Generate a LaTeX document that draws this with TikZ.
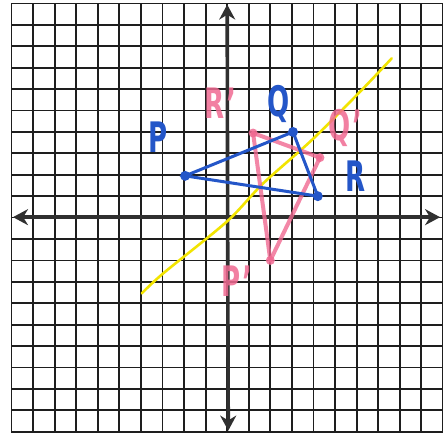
\documentclass[tikz,border=0pt]{standalone}
\usepackage{fontspec}
\setmainfont{DejaVu Sans}
\usetikzlibrary{arrows.meta}
\definecolor{gridc}{HTML}{1E1E1E}
\definecolor{axisc}{HTML}{303030}
\definecolor{blu}{HTML}{2456C8}
\definecolor{pnk}{HTML}{F06A92}
\definecolor{ylw}{HTML}{F2E400}
\tikzset{
  gridline/.style={draw=gridc, line width=1.8pt},
  axisline/.style={draw=axisc, line width=3.6pt, -{Stealth[length=15pt,width=16pt]}},
  blueside/.style={draw=blu, line width=3pt, line cap=round},
  pinkside/.style={draw=pnk, line width=4pt, line cap=round, opacity=0.8},
  bluedot/.style={circle, fill=blu, inner sep=0pt, minimum size=10pt},
  pinkdot/.style={circle, fill=pnk, opacity=0.85, inner sep=0pt, minimum size=9pt},
  bluelabel/.style={text=blu, font=\fontsize{42}{42}\selectfont\bfseries, inner sep=0pt, xscale=0.62},
  pinklabel/.style={text=pnk, opacity=0.85, font=\fontsize{42}{42}\selectfont\bfseries, inner sep=0pt, xscale=0.62},
}
\begin{document}
\begin{tikzpicture}[x=21.57pt, y=21.41pt]
\useasboundingbox (-10.533,-10.341) rectangle (10.005,10.163);
\fill[white] (-10.533,-10.341) rectangle (10.005,10.163);
% grid
\foreach \i in {-10,...,10} {
  \draw[gridline] (\i,-10) -- (\i,10);
  \draw[gridline] (-10,\i) -- (10,\i);
}
% axes
\coordinate (xl) at (-9.93,0.02);
\coordinate (xr) at (9.87,0.02);
\coordinate (yb) at (0.05,-9.95);
\coordinate (yt) at (0,9.95);
\draw[axisline] (0,0.02) -- (xl);
\draw[axisline] (0,0.02) -- (xr);
\draw[axisline] (0.02,0) -- (yt);
\draw[axisline] (0.02,0) -- (yb);
% yellow line of reflection
\draw[draw=ylw, line width=2.6pt, line cap=round] plot[smooth, tension=0.5] coordinates
  {(-3.96,-3.54) (-2.96,-2.60) (-0.02,-0.19) (1.67,1.6) (3.92,3.62) (6.16,5.88) (7.63,7.44)};
% pink image triangle
\coordinate (Pp) at (2.0,-2.0);
\coordinate (Qp) at (4.3,2.8);
\coordinate (Rp) at (1.2,3.95);
\draw[pinkside] (Pp) -- (Rp);
\draw[pinkside] (Rp) -- (Qp);
\draw[pinkside] (Qp) -- (Pp);
\node[pinkdot] (dPp) at (Pp) {};
\node[pinkdot] (dQp) at (Qp) {};
\node[pinkdot] (dRp) at (Rp) {};
% blue triangle
\coordinate (P) at (-1.95,1.95);
\coordinate (Q) at (3.05,4.0);
\coordinate (R) at (4.2,1.0);
\draw[blueside] (P) -- (Q) -- (R) -- cycle;
\node[bluedot] (dP) at (P) {};
\node[bluedot] (dQ) at (Q) {};
\node[bluedot] (dR) at (R) {};
% labels
\node[bluelabel] (lP) at (-3.21,3.76) {P};
\node[bluelabel] (lQ) at (2.40,5.30) {Q};
\node[bluelabel] (lR) at (5.97,1.94) {R};
\node[pinklabel] (lRp) at (-0.3,5.35) {R\kern3pt'};
\node[pinklabel] (lQp) at (5.46,4.18) {Q\kern3pt'};
\node[pinklabel] (lPp) at (0.45,-2.96) {P\kern3pt'};
\end{tikzpicture}
\end{document}
